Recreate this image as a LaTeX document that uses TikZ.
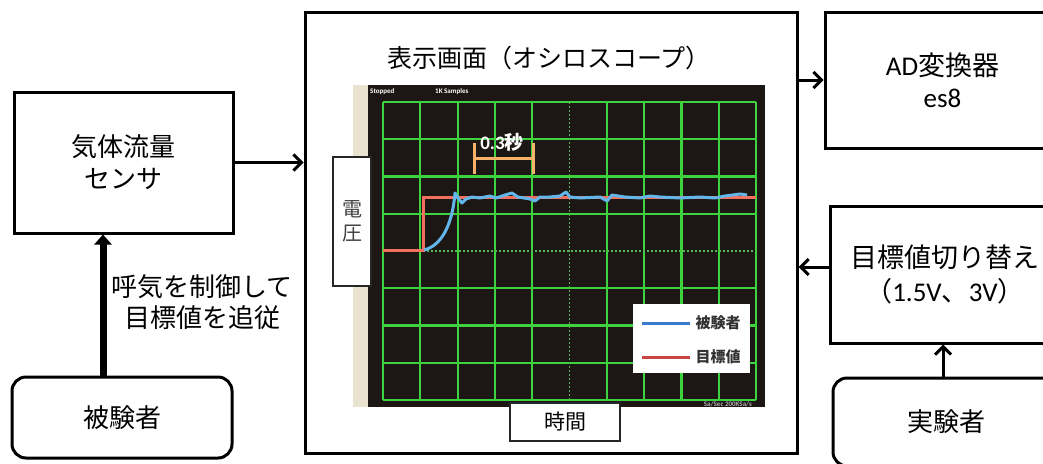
\documentclass[tikz,border=0pt]{standalone}
\usepackage{fontspec}
\setmainfont{Carlito}
\newfontfamily\jp{Noto Sans CJK JP}
\usetikzlibrary{arrows.meta}
\definecolor{scopebg}{HTML}{1C1614}
\definecolor{gridg}{HTML}{3ED23E}
\definecolor{trgt}{HTML}{F2705E}
\definecolor{subjc}{HTML}{62B6EA}
\definecolor{brk}{HTML}{F7B26A}
\definecolor{beige}{HTML}{EAE3D0}
\definecolor{legblue}{HTML}{3C7CCB}
\definecolor{legred}{HTML}{C94444}
\begin{document}
\begin{tikzpicture}[x=1pt,y=-1pt,
  box/.style={draw,line width=3pt,rectangle,align=center,inner sep=0pt},
  rbox/.style={box,rounded corners=14pt},
  arr/.style={line width=3pt,-{Straight Barb[length=8pt,width=16pt]}},
  big/.style={font=\jp\fontsize{26}{32}\selectfont},
  gline/.style={gridg,line width=2.2pt},
  gdot/.style={gridg!70!gray,line width=1.8pt,dash pattern=on 1.5pt off 2.5pt},
  tiny/.style={font=\bfseries\fontsize{7}{8}\selectfont,inner sep=0pt}]
\useasboundingbox (0,0) rectangle (1043,463);
\clip (0,0) rectangle (1043,463);

% oscilloscope screen
\fill[beige] (353,85) rectangle (368,407);
\fill[scopebg] (368,85) rectangle (765,407);
\foreach \i in {0,1,2,3,4,6,7,8,9,10} {\draw[gline] ({383+37.3*\i},102) -- ({383+37.3*\i},400);}
\foreach \j in {0,1,2,3,5,6,7,8} {\draw[gline] (383,{102+37.25*\j}) -- (756,{102+37.25*\j});}
\draw[gdot] (569.5,102) -- (569.5,400);
\draw[gdot] (383,251) -- (756,251);
\node[tiny,white,anchor=west] (stp) at (370,92) {Stopped};
\node[tiny,white,anchor=west] (smp) at (435,92) {1K Samples};
\node[tiny,gray!60,anchor=east] (sps) at (752,404) {Sa/Sec 200KSa/s};

% traces
\draw[trgt,line width=3pt] (383,250) -- (423,250) -- (423,197) -- (756,197);
\draw[subjc,line width=3pt,line join=round] (424,250) .. controls (440,246) and (452,228) .. (455,193)
  -- (458,198) -- (462,203) -- (466,199) -- (472,197) -- (480,198) -- (490,196) -- (496,198)
  -- (505,195) -- (512,193) -- (518,197) -- (530,199) -- (535,201) -- (540,197) -- (550,197)
  -- (560,196) -- (566,192) -- (570,197) -- (580,198) -- (600,197) -- (607,201) -- (612,195)
  -- (625,197) -- (640,198) -- (650,196) -- (660,197) -- (680,198) -- (700,197) -- (715,198)
  -- (725,196) -- (740,194) -- (747,195);

% 0.3 s bracket
\draw[brk,line width=3pt] (474,143) -- (474,174) (533,143) -- (533,174) (474,158) -- (533,158);
\node[white,inner sep=0pt,font=\bfseries\fontsize{19}{20}\selectfont] (sec) at (502,142) {0.3{\jp 秒}};

% legend
\fill[white] (633,304) rectangle (750,373);
\draw[legblue,line width=3pt] (642,323) -- (690,323);
\draw[legred,line width=3pt] (642,357) -- (690,357);
\node[font=\jp\bfseries\fontsize{15}{17}\selectfont,text=black!80] (lg1) at (718,323) {被験者};
\node[font=\jp\bfseries\fontsize{15}{17}\selectfont,text=black!80] (lg2) at (718,357) {目標値};

% axis labels
\node[draw=black!85,line width=1.5pt,fill=white,minimum width=38pt,minimum height=129pt,inner sep=0pt,
  align=center,font=\jp\fontsize{20}{24}\selectfont,text=black!75] (volt) at (352,221.5) {電\\圧};
\node[draw=black!85,line width=1.5pt,fill=white,minimum width=110pt,minimum height=38pt,inner sep=0pt,
  font=\jp\fontsize{21}{24}\selectfont] (time) at (565,422) {時間};

% blocks
\node[box,minimum width=492pt,minimum height=441pt] (disp) at (551,232.5) {};
\node[font=\jp\fontsize{25}{30}\selectfont] (title) at (549,58) {表示画面（オシロスコープ）};
\node[box,big,minimum width=219pt,minimum height=141pt] (sensor) at (123.5,162.5) {気体流量\\センサ};
\node[rbox,big,minimum width=220pt,minimum height=81pt] (subj) at (122,417.5) {被験者};
\node[box,font=\fontsize{27}{32}\selectfont,minimum width=235pt,minimum height=136pt] (ad) at (942.5,80) {AD{\jp 変換器}\\es8};
\node[box,font=\fontsize{27}{34}\selectfont,minimum width=230pt,minimum height=137pt] (target) at (945,274.5)
  {{\jp 目標値切り替え}\\{\jp （}1.5V{\jp 、}3V{\jp ）}};
\node[rbox,big,minimum width=227pt,minimum height=88pt] (exp) at (946.5,422) {実験者};
\node[font=\jp\fontsize{26}{31}\selectfont,align=center,inner sep=0pt] (lbl) at (202,302) {呼気を制御して\\目標値を追従};

% connectors
\draw[arr] (sensor.east) -- (sensor.east -| disp.west);
\draw[arr] (ad.west -| disp.east) -- (ad.west);
\draw[arr] ([yshift=7.5pt]target.west) -- ([yshift=7.5pt]target.west -| disp.east);
\draw[arr] ([xshift=-3.5pt]exp.north) -- ([xshift=-3.5pt]exp.north |- target.south);
\draw[line width=7pt,-{Triangle[length=10pt,width=17pt]}] ([xshift=-19pt]subj.north) -- ([xshift=-19pt]subj.north |- sensor.south);
\end{tikzpicture}
\end{document}
